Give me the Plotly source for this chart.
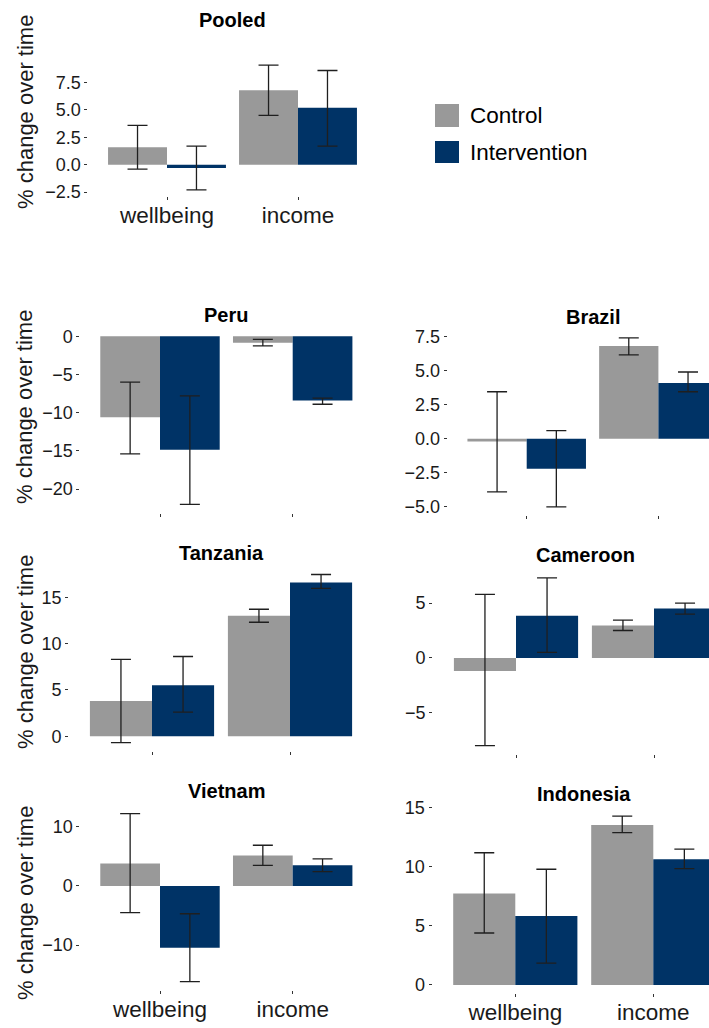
import plotly.graph_objects as go

# ---------------- data ----------------
categories = ["wellbeing", "income"]
groups = ["Control", "Intervention"]

pooled_control = [1.6, 6.8]
pooled_control_lo = [-0.4, 4.5]
pooled_control_hi = [3.6, 9.1]
pooled_interv = [-0.3, 5.2]
pooled_interv_lo = [-2.3, 1.7]
pooled_interv_hi = [1.7, 8.6]

peru_control = [-10.6, -0.85]
peru_control_lo = [-15.4, -1.25]
peru_control_hi = [-6.0, -0.4]
peru_interv = [-14.85, -8.4]
peru_interv_lo = [-22.0, -8.9]
peru_interv_hi = [-7.8, -8.1]

brazil_control = [-0.2, 6.8]
brazil_control_lo = [-3.9, 6.15]
brazil_control_hi = [3.45, 7.4]
brazil_interv = [-2.2, 4.1]
brazil_interv_lo = [-5.0, 3.45]
brazil_interv_hi = [0.6, 4.9]

tanzania_control = [3.8, 13.0]
tanzania_control_lo = [-0.7, 12.3]
tanzania_control_hi = [8.3, 13.7]
tanzania_interv = [5.5, 16.6]
tanzania_interv_lo = [2.6, 15.95]
tanzania_interv_hi = [8.6, 17.45]

cameroon_control = [-1.2, 2.95]
cameroon_control_lo = [-8.0, 2.5]
cameroon_control_hi = [5.8, 3.45]
cameroon_interv = [3.85, 4.5]
cameroon_interv_lo = [0.5, 4.0]
cameroon_interv_hi = [7.3, 5.0]

vietnam_control = [3.8, 5.15]
vietnam_control_lo = [-4.5, 3.5]
vietnam_control_hi = [12.25, 6.9]
vietnam_interv = [-10.45, 3.5]
vietnam_interv_lo = [-16.2, 2.45]
vietnam_interv_hi = [-4.7, 4.6]

indonesia_control = [7.75, 13.55]
indonesia_control_lo = [4.4, 12.9]
indonesia_control_hi = [11.2, 14.3]
indonesia_interv = [5.85, 10.65]
indonesia_interv_lo = [1.85, 9.85]
indonesia_interv_hi = [9.8, 11.5]

pooled_ticks = [-2.5, 0, 2.5, 5, 7.5]
pooled_ticklabels = ["\u22122.5", "0.0", "2.5", "5.0", "7.5"]
peru_ticks = [-20, -15, -10, -5, 0]
peru_ticklabels = ["\u221220", "\u221215", "\u221210", "\u22125", "0"]
brazil_ticks = [-5, -2.5, 0, 2.5, 5, 7.5]
brazil_ticklabels = ["\u22125.0", "\u22122.5", "0.0", "2.5", "5.0", "7.5"]
tanzania_ticks = [0, 5, 10, 15]
tanzania_ticklabels = ["0", "5", "10", "15"]
cameroon_ticks = [-5, 0, 5]
cameroon_ticklabels = ["\u22125", "0", "5"]
vietnam_ticks = [-10, 0, 10]
vietnam_ticklabels = ["\u221210", "0", "10"]
indonesia_ticks = [0, 5, 10, 15]
indonesia_ticklabels = ["0", "5", "10", "15"]

# ---------------- styling / layout ----------------
W, H = 709, 1028
GRAY = "#999999"
BLUE = "#003366"
FONT = "Liberation Sans, Arial, sans-serif"

panels = [
    # name, data, ticks, labels, centre px of first category, px per category,
    # top px, bottom px, show category labels, y-title centre px (or None), title y px
    ("Pooled", (pooled_control, pooled_control_lo, pooled_control_hi,
                pooled_interv, pooled_interv_lo, pooled_interv_hi),
     pooled_ticks, pooled_ticklabels, 167, 131, 58.8, 196.2, True, 112, 20),
    ("Peru", (peru_control, peru_control_lo, peru_control_hi,
              peru_interv, peru_interv_lo, peru_interv_hi),
     peru_ticks, peru_ticklabels, 160, 132.7, 327.9, 512.7, False, 407, 315),
    ("Brazil", (brazil_control, brazil_control_lo, brazil_control_hi,
                brazil_interv, brazil_interv_lo, brazil_interv_hi),
     brazil_ticks, brazil_ticklabels, 526.7, 131.7, 329.5, 515.3, False, None, 316.5),
    ("Tanzania", (tanzania_control, tanzania_control_lo, tanzania_control_hi,
                  tanzania_interv, tanzania_interv_lo, tanzania_interv_hi),
     tanzania_ticks, tanzania_ticklabels, 152, 138, 566.1, 751.1, False, 652, 552.5),
    ("Cameroon", (cameroon_control, cameroon_control_lo, cameroon_control_hi,
                  cameroon_interv, cameroon_interv_lo, cameroon_interv_hi),
     cameroon_ticks, cameroon_ticklabels, 516, 138, 569.5, 754, False, None, 555),
    ("Vietnam", (vietnam_control, vietnam_control_lo, vietnam_control_hi,
                 vietnam_interv, vietnam_interv_lo, vietnam_interv_hi),
     vietnam_ticks, vietnam_ticklabels, 160, 132.7, 805.3, 990, True, 903, 791),
    ("Indonesia", (indonesia_control, indonesia_control_lo, indonesia_control_hi,
                   indonesia_interv, indonesia_interv_lo, indonesia_interv_hi),
     indonesia_ticks, indonesia_ticklabels, 515.3, 138, 807.7, 993.4, True, None, 794),
]

fig = go.Figure()
annotations = []
layout_axes = {}

for i, (name, data, ticks, ticklabels, c0, s, top, bottom, show_cat, ytitle_y, title_y) in enumerate(panels, start=1):
    c_val, c_lo, c_hi, t_val, t_lo, t_hi = data
    xa = "x" if i == 1 else f"x{i}"
    ya = "y" if i == 1 else f"y{i}"
    for label, vals, lo, hi, color in [
        ("Control", c_val, c_lo, c_hi, GRAY),
        ("Intervention", t_val, t_lo, t_hi, BLUE),
    ]:
        fig.add_trace(go.Bar(
            x=categories, y=vals, name=label, marker_color=color,
            marker_line_width=0, showlegend=False, xaxis=xa, yaxis=ya,
            offsetgroup=label,
            error_y=dict(type="data", symmetric=False,
                         array=[h - v for h, v in zip(hi, vals)],
                         arrayminus=[v - l for v, l in zip(vals, lo)],
                         color="#1f1f1f", thickness=1.3, width=10),
        ))
    # ggplot-like 5% expansion of the y scale
    ymin = min(min(c_lo), min(t_lo), min(c_val), min(t_val), 0)
    ymax = max(max(c_hi), max(t_hi), max(c_val), max(t_val), 0)
    pad = 0.05 * (ymax - ymin)
    left_px = c0 - 0.6 * s
    full_right_px = c0 + 1.6 * s
    right_px = min(full_right_px, W)
    xr = [-0.6, (right_px - c0) / s]
    xkey = "xaxis" if i == 1 else f"xaxis{i}"
    ykey = "yaxis" if i == 1 else f"yaxis{i}"
    layout_axes[xkey] = dict(
        domain=[left_px / W, right_px / W], anchor=ya, type="category",
        range=xr, showgrid=False, zeroline=False, showline=False,
        ticks="outside", ticklen=3, tickcolor="#333333", tickwidth=1,
        showticklabels=show_cat, automargin=False, ticklabelstandoff=-4,
        tickfont=dict(family=FONT, size=22.5, color="#1a1a1a"),
        fixedrange=True,
    )
    layout_axes[ykey] = dict(
        domain=[1 - bottom / H, 1 - top / H], anchor=xa,
        range=[ymin - pad, ymax + pad], showgrid=False, zeroline=False,
        showline=False, ticks="outside", ticklen=3, tickcolor="#333333",
        tickwidth=1, tickvals=ticks, ticktext=ticklabels, automargin=False,
        tickfont=dict(family=FONT, size=18, color="#1a1a1a"),
        fixedrange=True,
    )
    # panel title (centred on the full, unclipped panel)
    annotations.append(dict(
        text=f"<b>{name}</b>", xref="paper", yref="paper",
        x=((left_px + full_right_px) / 2) / W, y=1 - title_y / H,
        xanchor="center", yanchor="middle", showarrow=False,
        font=dict(family=FONT, size=20, color="#000000"),
    ))
    if ytitle_y is not None:
        annotations.append(dict(
            text="% change over time", xref="paper", yref="paper",
            x=25 / W, y=1 - ytitle_y / H, xanchor="center", yanchor="middle",
            textangle=-90, showarrow=False,
            font=dict(family=FONT, size=22, color="#1a1a1a"),
        ))

# legend (drawn as keys + text)
legend_items = [("Control", GRAY, 104, 127), ("Intervention", BLUE, 141, 163)]
shapes = []
for label, color, y0, y1 in legend_items:
    shapes.append(dict(type="rect", xref="paper", yref="paper",
                       x0=435 / W, x1=459 / W, y0=1 - y1 / H, y1=1 - y0 / H,
                       fillcolor=color, line_width=0))
    annotations.append(dict(
        text=label, xref="paper", yref="paper", x=468 / W,
        y=1 - ((y0 + y1) / 2) / H, xanchor="left", yanchor="middle",
        showarrow=False, font=dict(family=FONT, size=22.5, color="#000000"),
    ))

fig.update_layout(
    width=W, height=H, margin=dict(l=0, r=0, t=0, b=0, autoexpand=False),
    paper_bgcolor="white", plot_bgcolor="white",
    barmode="group", bargap=0.1, bargroupgap=0,
    annotations=annotations, shapes=shapes, showlegend=False,
    font=dict(family=FONT),
    **layout_axes,
)

fig.write_html("out.html", config={"displayModeBar": False},
               post_script="document.body.style.margin='0px';")
